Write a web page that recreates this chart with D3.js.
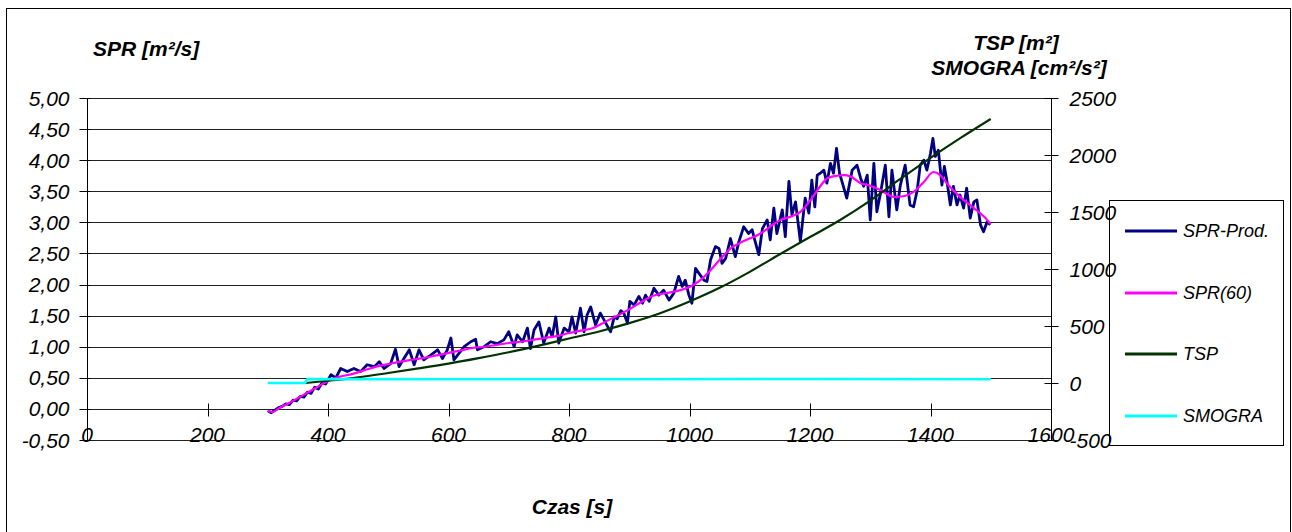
<!DOCTYPE html>
<html>
<head>
<meta charset="utf-8">
<script src="https://cdn.jsdelivr.net/npm/d3@7"></script>
<style>
  body { margin: 0; background: #fff; }
  svg text { font-family: "Liberation Sans", Arial, sans-serif; font-style: italic; }
</style>
</head>
<body>
<div id="chart"></div>
<script>
// SPR-Prod. (raw, left axis)
const sprTime = [300,306,312,318,324,330,336,342,348,354,360,366,372,378,384,390,396,405,413,421,432,443,454,465,477,485,493,504,512,518,526,535,543,551,559,571,582,590,598,604,609,617,626,637,645,648,659,670,681,692,700,709,714,723,731,736,742,750,758,767,772,778,783,792,800,805,811,819,825,830,836,844,852,861,869,875,880,886,891,897,901,908,916,922,927,933,941,949,957,966,974,982,988,993,999,1004,1010,1018,1024,1029,1035,1043,1049,1054,1060,1068,1076,1082,1090,1098,1104,1109,1115,1121,1129,1134,1140,1145,1154,1159,1165,1170,1176,1184,1192,1198,1203,1208,1212,1217,1223,1228,1234,1239,1244,1249,1253,1261,1270,1278,1284,1289,1295,1300,1306,1311,1317,1325,1331,1336,1344,1350,1358,1366,1372,1378,1383,1389,1394,1400,1404,1408,1413,1419,1423,1427,1433,1438,1444,1449,1455,1460,1466,1472,1477,1483,1488,1494,1499];
const sprProd = [-0.03,-0.06,-0.02,0.02,0.04,0.08,0.07,0.14,0.13,0.20,0.19,0.27,0.25,0.35,0.32,0.42,0.40,0.55,0.50,0.65,0.60,0.65,0.60,0.71,0.68,0.76,0.65,0.73,0.96,0.68,0.81,0.95,0.71,0.95,0.79,0.87,0.95,0.81,0.95,1.14,0.79,0.89,1.00,1.08,1.12,0.95,1.00,1.08,1.05,1.11,1.24,1.00,1.19,1.08,1.30,0.97,1.27,1.40,1.06,1.30,1.16,1.48,1.06,1.30,1.24,1.48,1.22,1.62,1.24,1.51,1.64,1.35,1.54,1.38,1.24,1.48,1.45,1.58,1.54,1.38,1.73,1.67,1.81,1.70,1.83,1.73,1.94,1.83,1.91,1.75,1.86,2.13,1.97,2.07,1.83,1.70,2.26,2.15,2.07,2.05,2.40,2.61,2.58,2.34,2.42,2.74,2.45,2.69,2.93,2.82,2.88,2.69,2.48,2.90,3.04,2.72,3.23,2.82,3.20,2.77,3.66,3.12,3.33,2.69,3.39,3.15,3.68,3.25,3.76,3.79,3.84,3.63,3.95,3.79,4.19,3.79,3.66,3.39,3.84,3.92,3.71,3.58,3.76,3.04,3.95,3.17,3.47,3.92,3.09,3.84,3.20,3.60,3.92,3.28,3.25,3.52,3.92,4.00,3.84,4.11,4.35,4.06,4.16,3.60,3.90,3.68,3.28,3.58,3.28,3.44,3.23,3.55,3.07,3.33,3.36,2.96,2.85,3.01,2.96];

// SPR(60) (smoothed, left axis)
const spr60Time = [300,308,320,340,360,380,400,420,440,460,480,500,520,540,560,580,600,620,640,660,680,700,720,740,760,780,800,820,840,860,880,900,920,940,960,985,1000,1018,1030,1043,1055,1068,1090,1118,1135,1151,1170,1184,1201,1217,1229,1245,1256,1267,1284,1300,1317,1339,1355,1372,1389,1405,1416,1427,1449,1472,1494,1500];
const spr60 = [-0.03,-0.05,0.02,0.12,0.23,0.34,0.45,0.52,0.56,0.62,0.68,0.72,0.76,0.79,0.82,0.86,0.90,0.94,0.98,1.00,1.03,1.06,1.08,1.11,1.14,1.17,1.22,1.26,1.30,1.40,1.50,1.60,1.72,1.82,1.86,1.91,1.96,2.07,2.18,2.32,2.45,2.58,2.70,2.82,2.94,3.04,3.10,3.17,3.36,3.58,3.71,3.75,3.76,3.74,3.63,3.59,3.52,3.41,3.42,3.49,3.65,3.81,3.76,3.63,3.41,3.23,3.04,2.97];

// TSP (right axis)
const tspTime = [363,400,450,500,550,600,650,700,750,800,850,900,950,1000,1050,1100,1150,1200,1250,1300,1350,1400,1450,1500];
const tsp = [0,20,50,88,128,170,218,270,328,390,452,525,610,715,835,975,1130,1280,1430,1600,1790,1975,2150,2316];

// SMOGRA (right axis)
const smograTime = [300,362,366,600,900,1200,1500];
const smogra = [0,0,35,33,32,35,33];

const xTicks = [0,200,400,600,800,1000,1200,1400,1600];
const leftTicks = [-0.5,0,0.5,1,1.5,2,2.5,3,3.5,4,4.5,5];
const rightTicks = [-500,0,500,1000,1500,2000,2500];

const seriesNames = ["SPR-Prod.", "SPR(60)", "TSP", "SMOGRA"];
const seriesColors = ["#000080", "#ff00ff", "#003300", "#00ffff"];
const seriesWidths = [2.8, 2.2, 2.2, 2.5];

const width = 1292, height = 532;
const plot = {left: 87, right: 1051, top: 98, bottom: 440};

const loc = d3.formatLocale({decimal: ",", thousands: "", grouping: [3], currency: ["", ""], minus: "-"});
const fmtLeft = loc.format(".2f");
const fmtRight = loc.format("d");

const svg = d3.select("#chart").append("svg")
    .attr("width", width).attr("height", height);

svg.append("rect").attr("width", width).attr("height", height).attr("fill", "#fff");
// outer frame
svg.append("rect")
    .attr("x", 6.5).attr("y", 8.5).attr("width", 1284).attr("height", 540)
    .attr("fill", "none").attr("stroke", "#000").attr("stroke-width", 1);

const x = d3.scaleLinear().domain([0, 1600]).range([plot.left, plot.right]);
const yL = d3.scaleLinear().domain([-0.5, 5]).range([plot.bottom, plot.top]);
const yR = d3.scaleLinear().domain([-500, 2500]).range([plot.bottom, plot.top]);

// gridlines
svg.append("g")
    .selectAll("line").data(leftTicks).join("line")
    .attr("x1", plot.left).attr("x2", plot.right)
    .attr("y1", d => Math.round(yL(d)) + 0.5).attr("y2", d => Math.round(yL(d)) + 0.5)
    .attr("stroke", "#222").attr("stroke-width", 1);

// left axis
const gl = svg.append("g").attr("transform", `translate(${plot.left + 0.5},0)`);
gl.append("line").attr("y1", plot.top).attr("y2", plot.bottom).attr("stroke", "#000");
gl.selectAll("line.tk").data(leftTicks).join("line").attr("class", "tk")
    .attr("x1", -8).attr("x2", 3)
    .attr("y1", d => Math.round(yL(d)) + 0.5).attr("y2", d => Math.round(yL(d)) + 0.5)
    .attr("stroke", "#000");
gl.selectAll("text").data(leftTicks).join("text")
    .attr("x", -18).attr("y", d => yL(d)).attr("dy", "0.36em")
    .attr("text-anchor", "end").attr("font-size", 21)
    .text(d => fmtLeft(d));

// right axis
const gr = svg.append("g").attr("transform", `translate(${plot.right + 0.5},0)`);
gr.append("line").attr("y1", plot.top).attr("y2", plot.bottom).attr("stroke", "#000");
gr.selectAll("line.tk").data(rightTicks).join("line").attr("class", "tk")
    .attr("x1", -7).attr("x2", 7)
    .attr("y1", d => Math.round(yR(d)) + 0.5).attr("y2", d => Math.round(yR(d)) + 0.5)
    .attr("stroke", "#000");
gr.selectAll("text").data(rightTicks).join("text")
    .attr("x", 18).attr("y", d => yR(d)).attr("dy", "0.36em")
    .attr("text-anchor", "start").attr("font-size", 21)
    .text(d => fmtRight(d));

// x axis sits on SPR = 0
const y0 = Math.round(yL(0)) + 0.5;
const gx = svg.append("g");
gx.selectAll("line").data(xTicks).join("line")
    .attr("x1", d => Math.round(x(d)) + 0.5).attr("x2", d => Math.round(x(d)) + 0.5)
    .attr("y1", y0 - 6).attr("y2", y0 + 7)
    .attr("stroke", "#000");
gx.selectAll("text").data(xTicks).join("text")
    .attr("x", d => x(d)).attr("y", plot.bottom + 2)
    .attr("text-anchor", "middle").attr("font-size", 21)
    .text(d => d);

// series
const lineL = d3.line().x(d => x(d[0])).y(d => yL(d[1]));
const lineR = d3.line().x(d => x(d[0])).y(d => yR(d[1]));
const lineLs = d3.line().curve(d3.curveMonotoneX).x(d => x(d[0])).y(d => yL(d[1]));
const lineRs = d3.line().curve(d3.curveMonotoneX).x(d => x(d[0])).y(d => yR(d[1]));

const series = [
    {pts: d3.zip(sprTime, sprProd), gen: lineL},
    {pts: d3.zip(spr60Time, spr60), gen: lineLs},
    {pts: d3.zip(tspTime, tsp), gen: lineRs},
    {pts: d3.zip(smograTime, smogra), gen: lineR}
];

series.forEach((s, i) => {
    svg.append("path")
        .attr("d", s.gen(s.pts))
        .attr("fill", "none")
        .attr("stroke", seriesColors[i])
        .attr("stroke-width", seriesWidths[i])
        .attr("stroke-linejoin", "round");
});

// titles
svg.append("text").attr("x", 93).attr("y", 56)
    .attr("font-size", 21).attr("font-weight", "bold")
    .text("SPR [m²/s]");
svg.append("text").attr("x", 1016).attr("y", 50)
    .attr("text-anchor", "middle").attr("font-size", 21).attr("font-weight", "bold")
    .text("TSP [m²]");
svg.append("text").attr("x", 1019).attr("y", 75)
    .attr("text-anchor", "middle").attr("font-size", 21).attr("font-weight", "bold")
    .text("SMOGRA [cm²/s²]");
svg.append("text").attr("x", 572).attr("y", 514)
    .attr("text-anchor", "middle").attr("font-size", 21).attr("font-weight", "bold")
    .text("Czas [s]");

// legend
const legend = svg.append("g");
legend.append("rect")
    .attr("x", 1109.5).attr("y", 200.5).attr("width", 174).attr("height", 245)
    .attr("fill", "none").attr("stroke", "#000");
const rowY = [231, 293, 354, 416];
seriesNames.forEach((name, i) => {
    legend.append("line")
        .attr("x1", 1125).attr("x2", 1177).attr("y1", rowY[i]).attr("y2", rowY[i])
        .attr("stroke", seriesColors[i]).attr("stroke-width", 3);
    legend.append("text")
        .attr("x", 1183).attr("y", rowY[i]).attr("dy", "0.36em")
        .attr("font-size", 18)
        .text(name);
});
</script>
</body>
</html>
